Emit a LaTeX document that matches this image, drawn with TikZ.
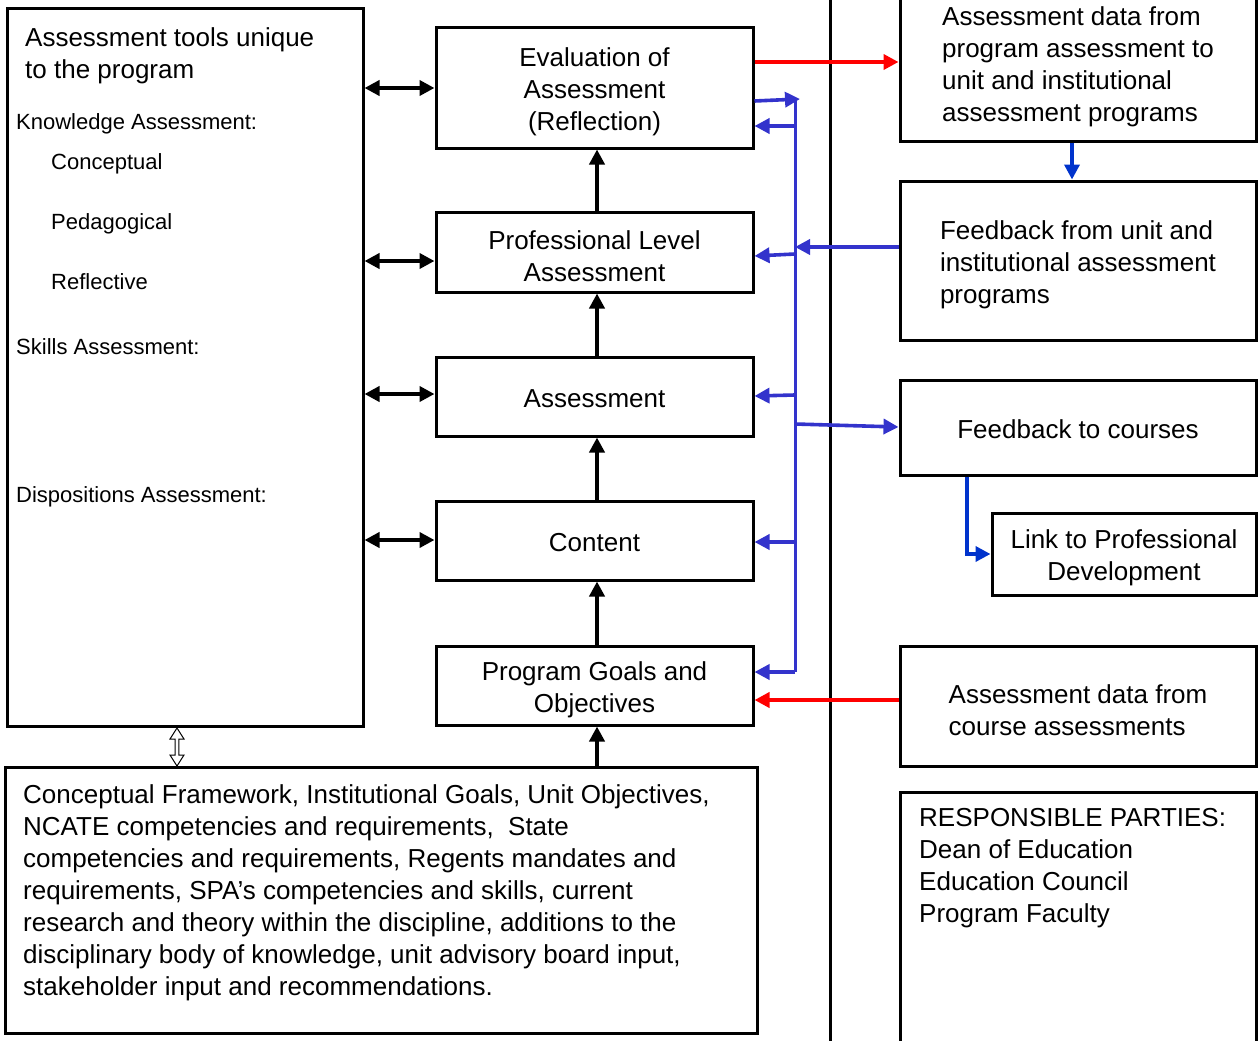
\documentclass[tikz,border=0pt]{standalone}
\usepackage{fontspec}
\setmainfont{Liberation Sans}
\usetikzlibrary{arrows.meta}
\newcommand\bigtxt{\fontsize{26}{32}\selectfont}
\newcommand\smalltxt{\fontsize{22}{26}\selectfont}
\definecolor{busblue}{RGB}{51,51,204}
\definecolor{darkblue}{RGB}{0,51,204}
\definecolor{arrred}{RGB}{255,0,0}
\begin{document}
\begin{tikzpicture}[x=1pt,y=-1pt,
  frame/.style={draw, line width=3pt, inner sep=0pt},
  inbox/.style={inner sep=0pt, align=center, font=\bigtxt},
  linbox/.style={inner sep=0pt, align=left, font=\bigtxt},
  txt/.style={inner sep=0pt, anchor=north west, align=left, font=\bigtxt},
  stxt/.style={inner sep=0pt, anchor=north west, align=left, font=\smalltxt},
  tip/.style={-{Triangle[length=15pt,width=15pt]}},
  bothtip/.style={{Triangle[length=15pt,width=15pt]}-{Triangle[length=15pt,width=15pt]}},
  blk/.style={line width=4pt, black},
  blu/.style={line width=3.6pt, busblue},
  dblu/.style={line width=3.6pt, darkblue},
  redl/.style={line width=3.8pt, arrred},
]
\useasboundingbox (0,0) rectangle (1258,1041);

% divider between program column and outside units
\coordinate (divtop) at (830,0);
\coordinate (divbot) at (830,1041);
\draw[line width=3pt] (divtop) -- (divbot);

% left column: assessment tools
\node[frame, minimum width=356pt, minimum height=717pt] (tools) at (185,367.5) {};
\node[txt] (toolshead) at (25,27) {Assessment tools unique\\to the program};
\node[stxt] (know) at (16,113) {Knowledge Assessment:};
\node[stxt] (concept) at (51,153) {Conceptual};
\node[stxt] (pedag) at (51,213) {Pedagogical};
\node[stxt] (reflect) at (51,273) {Reflective};
\node[stxt] (skills) at (16,338) {Skills Assessment:};
\node[stxt] (dispo) at (16,486) {Dispositions Assessment:};

% central chain
\node[frame, minimum width=317pt, minimum height=120pt] (eval) at (594.5,88) {};
\node[inbox] (evaltext) at (594.5,92) {Evaluation of\\Assessment\\(Reflection)};
\node[frame, minimum width=317pt, minimum height=80pt] (prof) at (594.5,252) {};
\node[inbox] (proftext) at (594.5,256) {Professional Level\\Assessment};
\node[frame, minimum width=317pt, minimum height=79pt] (assess) at (594.5,396.5) {};
\node[inbox] (assesstext) at (594.5,398.5) {Assessment};
\node[frame, minimum width=317pt, minimum height=79pt] (content) at (594.5,540.5) {};
\node[inbox] (contenttext) at (594.5,542.5) {Content};
\node[frame, minimum width=317pt, minimum height=79pt] (goals) at (594.5,685.5) {};
\node[inbox] (goalstext) at (594.5,689.5) {Program Goals and\\Objectives};

% sources of goals
\node[frame, minimum width=752pt, minimum height=266pt] (sources) at (381,900) {};
\node[txt] (sourcestext) at (23,784) {Conceptual Framework, Institutional Goals, Unit Objectives,\\
NCATE competencies and requirements,\ \ State\\
competencies and requirements, Regents mandates and\\
requirements, SPA’s competencies and skills, current\\
research and theory within the discipline, additions to the\\
disciplinary body of knowledge, unit advisory board input,\\
stakeholder input and recommendations.};

% right column
\node[frame, minimum width=356pt, minimum height=156pt] (toinst) at (1078,63) {};
\node[linbox] (toinsttext) at (1078,67) {Assessment data from\\program assessment to\\unit and institutional\\assessment programs};
\node[frame, minimum width=356pt, minimum height=159pt] (frominst) at (1078,260.5) {};
\node[linbox] (frominsttext) at (1078,264.5) {Feedback from unit and\\institutional assessment\\programs};
\node[frame, minimum width=356pt, minimum height=95pt] (tocourses) at (1078,427.5) {};
\node[inbox] (tocoursestext) at (1078,429.5) {Feedback to courses};
\node[frame, minimum width=264pt, minimum height=82pt] (profdev) at (1124,554) {};
\node[inbox] (profdevtext) at (1124,558) {Link to Professional\\Development};
\node[frame, minimum width=356pt, minimum height=120pt] (coursedata) at (1078,706) {};
\node[linbox] (coursedatatext) at (1078,710) {Assessment data from\\course assessments};
\node[frame, minimum width=356pt, minimum height=260pt] (parties) at (1078,922) {};
\node[txt] (partiestext) at (919,808) {RESPONSIBLE PARTIES:\\Dean of Education\\Education Council\\Program Faculty};

% two-way links between the tools and the chain
\coordinate (h1) at (0,88);
\coordinate (h2) at (0,261);
\coordinate (h3) at (0,394);
\coordinate (h4) at (0,540);
\draw[blk, bothtip] (h1 -| tools.east) -- (h1 -| eval.west);
\draw[blk, bothtip] (h2 -| tools.east) -- (h2 -| prof.west);
\draw[blk, bothtip] (h3 -| tools.east) -- (h3 -| assess.west);
\draw[blk, bothtip] (h4 -| tools.east) -- (h4 -| content.west);

% upward flow through the chain
\coordinate (cx) at (597,0);
\draw[blk, tip] (cx |- sources.north) -- (cx |- goals.south);
\draw[blk, tip] (cx |- goals.north) -- (cx |- content.south);
\draw[blk, tip] (cx |- content.north) -- (cx |- assess.south);
\draw[blk, tip] (cx |- assess.north) -- (cx |- prof.south);
\draw[blk, tip] (cx |- prof.north) -- (cx |- eval.south);

% hollow two-way arrow between tools and sources
\filldraw[draw=black, fill=white, line width=1pt]
  (177,728) -- (184,739) -- (178.8,739) -- (178.8,755) -- (184,755) -- (177,766)
  -- (170,755) -- (175.2,755) -- (175.2,739) -- (170,739) -- cycle;

% red data flows
\coordinate (r1) at (0,62);
\coordinate (r2) at (0,700);
\draw[redl, tip] (r1 -| eval.east) -- (r1 -| toinst.west);
\draw[redl, tip] (r2 -| coursedata.west) -- (r2 -| goals.east);

% feedback bus
\coordinate (bustop) at (797,99);
\coordinate (busbot) at (795,672);
\coordinate (busfrom) at (795,247);
\coordinate (busto) at (795,424);
\coordinate (e1) at (0,101);
\coordinate (b1) at (795,126);
\coordinate (b2) at (795,254);
\coordinate (b3) at (795,395);
\coordinate (b4) at (795,542);
\draw[blu, line width=3pt] (795,99) -- (busbot);
\draw[blu, tip] (e1 -| eval.east) -- ([xshift=3pt]bustop);
\draw[blu, tip] (b1) -- (b1 -| eval.east);
\draw[blu, tip] (b2) -- ([yshift=-2pt]b2 -| prof.east);
\draw[blu, tip] (b3) -- ([yshift=-1pt]b3 -| assess.east);
\draw[blu, tip] (b4) -- (b4 -| content.east);
\draw[blu, tip] (busbot) -- (busbot -| goals.east);
\draw[blu, tip] (busfrom -| frominst.west) -- (busfrom);
\draw[blu, tip] (busto) -- ([yshift=-3pt]busto -| tocourses.west);

% outside links
\coordinate (x1) at (1072,0);
\coordinate (x2) at (967,0);
\draw[dblu, tip] (x1 |- toinst.south) -- (x1 |- frominst.north);
\draw[dblu, tip] (x2 |- tocourses.south) |- (profdev.west);
\end{tikzpicture}
\end{document}
